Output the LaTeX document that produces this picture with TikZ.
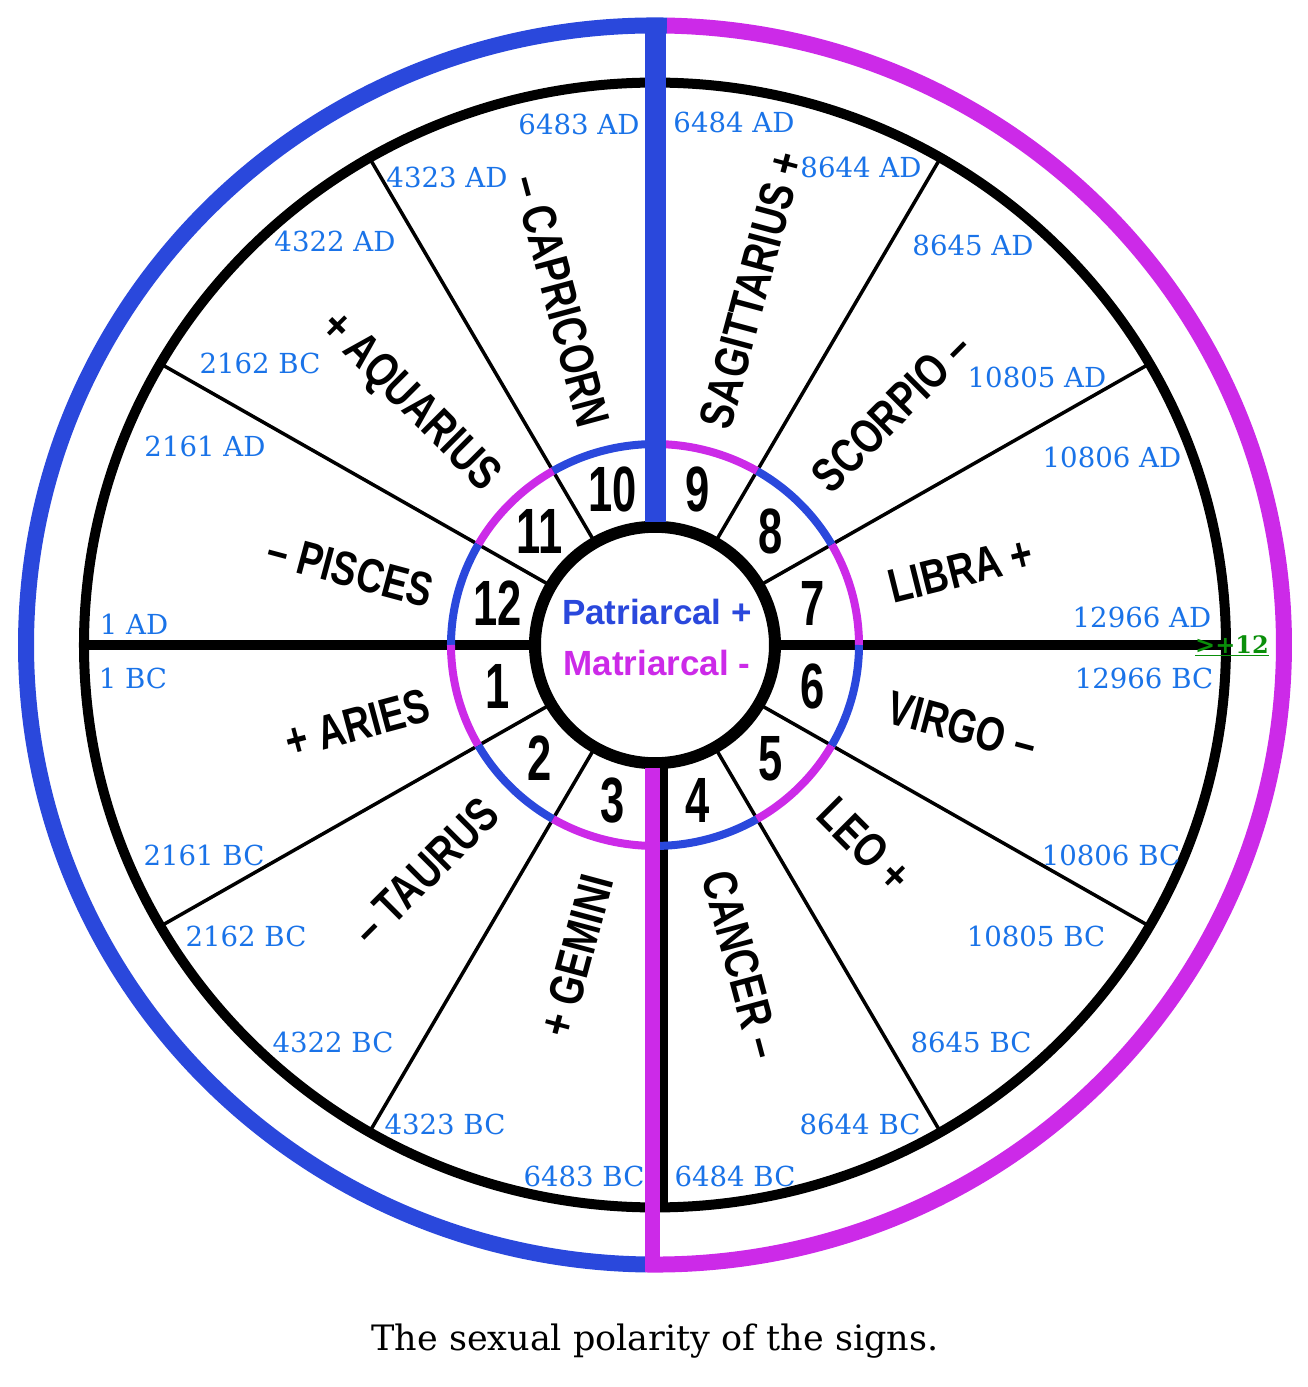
\documentclass[tikz,border=0pt]{standalone}
\usepackage{fontspec}
\setmainfont{DejaVu Serif}
\newfontfamily\signfont[FakeStretch=0.78]{Liberation Sans}
\newfontfamily\numfont[FakeStretch=0.68]{Liberation Sans}
\newfontfamily\headfont{Liberation Sans}
\usepackage{xcolor}
\definecolor{cPat}{HTML}{2A48DC}
\definecolor{cMat}{HTML}{CC2AE8}
\definecolor{cYear}{HTML}{1A73E8}
\definecolor{cGo}{HTML}{0A8F0A}
\usetikzlibrary{calc}
\tikzset{
  year-label/.style={text=cYear,font=\fontsize{13.8}{14}\selectfont,inner sep=0pt},
  sign-label/.style={font=\signfont\bfseries\fontsize{24}{25}\selectfont,inner sep=0pt},
  num-label/.style={font=\numfont\bfseries\fontsize{32}{33}\selectfont,inner sep=0pt},
  head-label/.style={font=\headfont\bfseries\fontsize{17.5}{18}\selectfont,inner sep=0pt},
  spoke/.style={line width=1.75pt,draw=black},
  spoke-main/.style={line width=5pt,draw=black},
  ring-outer/.style={line width=8pt},
  ring-inner/.style={line width=4pt},
}

\begin{document}
\begin{tikzpicture}[x=0.5pt,y=0.5pt]
  \useasboundingbox (-655,-742) rectangle (652,645);
  \begin{scope}[yscale=0.985]
    % spokes of the wheel
    \foreach \ang in {30,60,120,150,210,240,300,330}
      \draw[spoke] (\ang:120) -- (\ang:571);
    \draw[spoke-main] (180:120) -- (180:571);
    \draw[spoke-main] (0:120) -- (0:571);
    \draw[spoke-main] (8,-120) -- (8,-571);
    \draw[line width=5pt] (0,0) circle (571);
    \draw[line width=6pt] (0,0) circle (120);
    % inner ring, alternating polarity
    \foreach \ang/\col in {0/cMat,30/cPat,60/cMat,90/cPat,120/cMat,150/cPat,
                           180/cMat,210/cPat,240/cMat,270/cPat,300/cMat,330/cPat}
      \draw[ring-inner,draw=\col] (\ang:204) arc[start angle=\ang,end angle=\ang+30,radius=204];
    % outer ring
    \draw[ring-outer,cPat] (88.9:629) arc[start angle=88.9,end angle=269.2,radius=629];
    \draw[ring-outer,cMat] (-90.8:629) arc[start angle=-90.8,end angle=88.9,radius=629];
    \draw[line width=10.5pt,cPat] (1,125) -- (1,637);
    \draw[line width=7.5pt,cMat] (-2,-125) -- (-2,-637);
    % house numbers
    \foreach \n/\ang in {7/15,8/45,9/75,10/105,11/135,12/165,1/195,2/225,3/255,4/285,5/315,6/345}
      \node[num-label] (n\n) at (\ang:163) {\n};
    % signs
    \foreach \nm/\ang/\rad/\rot/\txt in {
        cap/105/362/-75/{– CAPRICORN},
        aqu/135/348/-45/{+ AQUARIUS},
        pis/166/314/-15/{– PISCES},
        ari/195/308/15/{+ ARIES},
        tau/225/325/45/{– TAURUS},
        gem/256/325/75/{+ GEMINI},
        can/285/336/-75/{CANCER –},
        leo/316/292/-45/{LEO +},
        vir/345/318/-15/{VIRGO –},
        lib/14/315/14/{LIBRA +},
        sco/45/335/45/{SCORPIO –},
        sag/75/373/75/{SAGITTARIUS +}}
      \node[sign-label,rotate=\rot] (s-\nm) at (\ang:\rad) {\txt};
  \end{scope}

  \node[head-label,text=cPat] (pat) at (2,33) {Patriarcal +};
  \node[head-label,text=cMat] (mat) at (2,-18) {Matriarcal -};

  \foreach \px/\py/\txt [count=\i] in {
      -76/521/6483 AD, 79/523/6484 AD, -208/468/4323 AD, 206/478/8644 AD,
      -320/404/4322 AD, 318/400/8645 AD, -395/282/2162 BC, 382/268/10805 AD,
      -450/199/2161 AD, 457/188/10806 AD, -521/21/1 AD, 487/28/12966 AD,
      -522/-33/1 BC, 489/-33/12966 BC, -451/-210/2161 BC, 456/-210/10806 BC,
      -409/-291/2162 BC, 381/-291/10805 BC, -322/-397/4322 BC, 316/-397/8645 BC,
      -210/-479/4323 BC, 205/-479/8644 BC, -71/-531/6483 BC, 80/-531/6484 BC}
    \node[year-label] (yr\i) at (\px,\py) {\txt};

  \node[text=cGo,font=\bfseries\fontsize{12}{13}\selectfont,inner sep=0pt,anchor=base]
    (cycle) at (577,-8) {\underline{>+12}};
  \node[font=\fontsize{17.5}{20}\selectfont,inner sep=0pt,anchor=base]
    (caption) at (0,-705) {The sexual polarity of the signs.};
\end{tikzpicture}
\end{document}
